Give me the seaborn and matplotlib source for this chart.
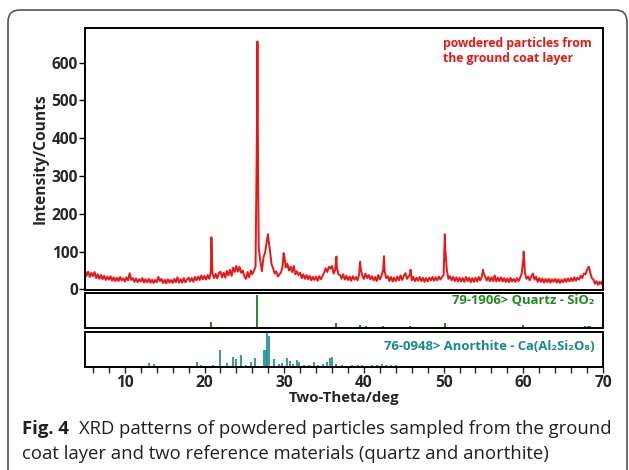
import numpy as np
import pandas as pd
import matplotlib
matplotlib.use("Agg")
import matplotlib.pyplot as plt
import seaborn as sns
from matplotlib.patches import FancyBboxPatch
from matplotlib.ticker import MultipleLocator

# ---------------- data ----------------
scan_start = 5.0
scan_step = 0.2
# measured counts on a 0.2 deg grid, 5.0 ... 70.0 (one row per degree)
scan_counts = [
    50, 36, 47, 33, 44,    # 5
    35, 46, 30, 40, 28,    # 6
    38, 27, 36, 25, 34,    # 7
    26, 35, 23, 32, 22,    # 8
    31, 22, 33, 24, 29,    # 9
    21, 32, 24, 43, 25,    # 10
    30, 20, 29, 19, 27,    # 11
    21, 30, 18, 27, 19,    # 12
    28, 18, 26, 17, 25,    # 13
    19, 33, 22, 28, 17,    # 14
    26, 16, 27, 18, 25,    # 15
    17, 28, 19, 32, 18,    # 16
    27, 18, 30, 19, 26,    # 17
    31, 21, 30, 20, 33,    # 18
    24, 34, 25, 37, 27,    # 19
    36, 26, 38, 28, 48,    # 20
    42, 30, 41, 29, 43,    # 21
    47, 32, 44, 31, 49,    # 22
    37, 52, 36, 58, 46,    # 23
    62, 47, 60, 44, 50,    # 24
    34, 28, 46, 32, 50,    # 25
    40, 50, 60, 470, 110,  # 26
    75, 48, 85, 98, 125,   # 27
    135, 105, 68, 56, 42,  # 28
    48, 34, 40, 45, 62,    # 29
    90, 58, 68, 50, 60,    # 30
    46, 62, 40, 48, 38,    # 31
    44, 30, 40, 28, 38,    # 32
    27, 36, 24, 33, 25,    # 33
    34, 23, 35, 27, 36,    # 34
    44, 56, 46, 60, 55,    # 35
    62, 42, 52, 60, 40,    # 36
    38, 28, 40, 26, 36,    # 37
    25, 34, 23, 35, 26,    # 38
    33, 24, 40, 55, 36,    # 39
    28, 42, 30, 38, 27,    # 40
    35, 24, 33, 22, 38,    # 41
    26, 36, 50, 48, 30,    # 42
    35, 22, 33, 21, 31,    # 43
    22, 34, 24, 37, 25,    # 44
    36, 43, 28, 34, 40,    # 45
    24, 33, 22, 31, 23,    # 46
    33, 22, 31, 20, 30,    # 47
    21, 31, 24, 33, 23,    # 48
    32, 24, 34, 26, 33,    # 49
    38, 110, 52, 28, 35,   # 50
    24, 33, 22, 32, 21,    # 51
    31, 21, 30, 20, 33,    # 52
    22, 31, 19, 30, 20,    # 53
    31, 21, 33, 24, 34,    # 54
    45, 34, 24, 33, 22,    # 55
    32, 22, 37, 21, 31,    # 56
    22, 32, 21, 30, 20,    # 57
    29, 19, 31, 21, 28,    # 58
    20, 30, 22, 31, 42,    # 59
    80, 44, 28, 34, 24,    # 60
    34, 42, 26, 34, 20,    # 61
    30, 20, 29, 18, 28,    # 62
    19, 28, 18, 27, 20,    # 63
    28, 18, 27, 17, 26,    # 64
    19, 28, 20, 29, 21,    # 65
    30, 22, 32, 23, 31,    # 66
    26, 36, 30, 42, 40,    # 67
    52, 60, 44, 30, 26,    # 68
    15, 22, 12, 20, 14,    # 69
    26,                    # 70
]
peak_2theta = [20.86, 26.64, 26.72, 27.95, 29.92, 36.55, 39.52, 42.52, 45.85, 50.15, 54.95, 60.05, 68.27]
peak_counts = [138, 656, 300, 146, 96, 87, 73, 88, 52, 146, 52, 100, 58]

quartz_2theta = [20.86, 26.64, 36.54, 39.46, 40.29, 42.45, 45.79, 50.14, 50.62,
                 54.87, 55.33, 57.23, 59.96, 63.99, 65.79, 67.74, 68.14, 68.31]
quartz_rel = [18, 100, 14, 8, 5, 6, 7, 14, 4, 4, 3, 4, 8, 3, 3, 6, 7, 6]

anorthite_2theta = [7.0, 9.5, 11.1, 13.0, 13.6, 14.2, 15.0, 15.9, 16.5, 17.6, 18.3,
                    19.0, 19.6, 20.3, 21.0, 21.5, 22.0, 22.8, 23.6, 24.0, 24.6,
                    25.2, 25.8, 26.3, 27.4, 27.7, 27.9, 28.1, 28.7, 29.3, 29.7,
                    30.4, 30.7, 31.1, 31.6, 31.9, 32.5, 33.1, 33.7, 34.3, 34.9,
                    35.4, 35.7, 36.0, 36.5, 37.2, 37.9, 38.5, 39.2, 39.8, 40.4,
                    41.0, 41.6, 42.3, 42.8, 43.4, 44.0, 44.6, 45.2]
anorthite_rel = [2, 2, 2, 12, 8, 4, 3, 3, 4, 4, 3,
                 16, 5, 4, 5, 3, 50, 12, 28, 24, 34,
                 7, 16, 27, 50, 50, 100, 90, 24, 10, 13,
                 27, 18, 8, 22, 15, 6, 5, 16, 7, 8,
                 16, 27, 29, 8, 5, 4, 6, 5, 7, 4,
                 6, 5, 10, 6, 5, 7, 4, 3]

x_major_ticks = [10, 20, 30, 40, 50, 60, 70]
y_ticks = [0, 100, 200, 300, 400, 500, 600]

sample_label = "powdered particles from\nthe ground coat layer"
quartz_label = "79-1906> Quartz - SiO\u2082"
anorthite_label = "76-0948> Anorthite - Ca(Al\u2082Si\u2082O\u2088)"
caption_bold = "Fig. 4"
caption_line1 = "XRD patterns of powdered particles sampled from the ground"
caption_line2 = "coat layer and two reference materials (quartz and anorthite)"

# ---------------- build frames ----------------
grid_2theta = np.round(scan_start + scan_step * np.arange(len(scan_counts)), 2)
scan = pd.concat([
    pd.DataFrame({"two_theta": grid_2theta, "counts": scan_counts}),
    pd.DataFrame({"two_theta": peak_2theta, "counts": peak_counts}),
]).sort_values("two_theta").reset_index(drop=True)

# ---------------- style ----------------
sns.set_style("ticks")
plt.rcParams["font.family"] = ["Open Sans", "DejaVu Sans"]
plt.rcParams["font.weight"] = "bold"

W, H = 629, 470
fig = plt.figure(figsize=(W / 100, H / 100), dpi=100)
fig.patch.set_facecolor("white")

def px_axes(l, t, r, b):
    return fig.add_axes([l / W, 1 - b / H, (r - l) / W, (b - t) / H])

ax = px_axes(85, 27.5, 603, 290)
axq = px_axes(85, 293, 603, 328)
axa = px_axes(85, 332, 603, 367)

red = "#f01414"
green = "#1f8a1f"
teal = "#148a8a"
tick_fs = 11.2

sns.lineplot(data=scan, x="two_theta", y="counts", ax=ax, color=red,
             linewidth=1.4, estimator=None, sort=True)
ax.set_xlim(5, 70)
ax.set_ylim(-1.5, 693)
ax.set_yticks(y_ticks)
ax.set_yticklabels([str(v) for v in y_ticks], fontsize=tick_fs, fontweight="bold")
ax.tick_params(axis="y", direction="out", length=4, width=1, pad=1, color="black")
ax.tick_params(axis="x", bottom=False, labelbottom=False)
ax.set_xlabel("")
ax.set_ylabel("Intensity/Counts", fontsize=11.2, fontweight="bold", labelpad=2)
ax.text(0.691, 0.965, sample_label, transform=ax.transAxes, color=red,
        fontsize=8.7, fontweight="bold", ha="left", va="top", linespacing=1.25)

axq.vlines(quartz_2theta, 0, quartz_rel, color=green, linewidth=1.4)
axq.set_xlim(5, 70)
axq.set_ylim(0, 106)
axq.set_xticks([]); axq.set_yticks([])
axq.text(0.983, 0.8, quartz_label, transform=axq.transAxes, color=green,
         fontsize=9.4, fontweight="bold", ha="right", va="center")

axa.vlines(anorthite_2theta, 0, anorthite_rel, color=teal, linewidth=1.2)
axa.set_xlim(5, 70)
axa.set_ylim(0, 103)
axa.set_yticks([])
axa.xaxis.set_major_locator(plt.FixedLocator(x_major_ticks))
axa.xaxis.set_minor_locator(MultipleLocator(2))
axa.set_xticklabels([str(v) for v in x_major_ticks], fontsize=tick_fs, fontweight="bold")
axa.tick_params(axis="x", which="both", direction="out", length=4.5, width=1, pad=1)
axa.set_xlabel("Two-Theta/deg", fontsize=10.8, fontweight="bold", labelpad=0)
axa.text(0.983, 0.6, anorthite_label, transform=axa.transAxes, color=teal,
         fontsize=9.4, fontweight="bold", ha="right", va="center")

for a in (ax, axq, axa):
    for s in a.spines.values():
        s.set_visible(True)
        s.set_color("black")
        s.set_linewidth(1.4)
    leg = a.get_legend()
    if leg is not None:
        leg.remove()

# outer rounded frame
frame = FancyBboxPatch((8, -30), 619, 490, boxstyle="round,pad=0,rounding_size=12",
                       transform=None, facecolor="none", edgecolor="#555555",
                       linewidth=1.2)
fig.patches.append(frame)

# caption
fs = 12.5
cap_color = "#231f20"
renderer = fig.canvas.get_renderer()
t_bold = fig.text(22 / W, 1 - 434 / H, caption_bold, fontsize=fs, fontweight="bold",
                  color=cap_color, va="baseline", ha="left")
bw = t_bold.get_window_extent(renderer).width
t1 = fig.text((22 + bw + 10) / W, 1 - 434 / H, caption_line1, fontsize=fs,
              fontweight="normal", color=cap_color, va="baseline", ha="left")
w1 = t1.get_window_extent(renderer).x1
scale = (613 - 22) / (w1 - 22)
fs2 = fs * scale
t_bold.set_fontsize(fs2)
bw = t_bold.get_window_extent(renderer).width
t1.set_fontsize(fs2)
t1.set_x((22 + bw + 10) / W)
fig.text(22 / W, 1 - 459 / H, caption_line2, fontsize=fs2, fontweight="normal",
         color=cap_color, va="baseline", ha="left")

fig.savefig("out.png", dpi=100, facecolor="white")
